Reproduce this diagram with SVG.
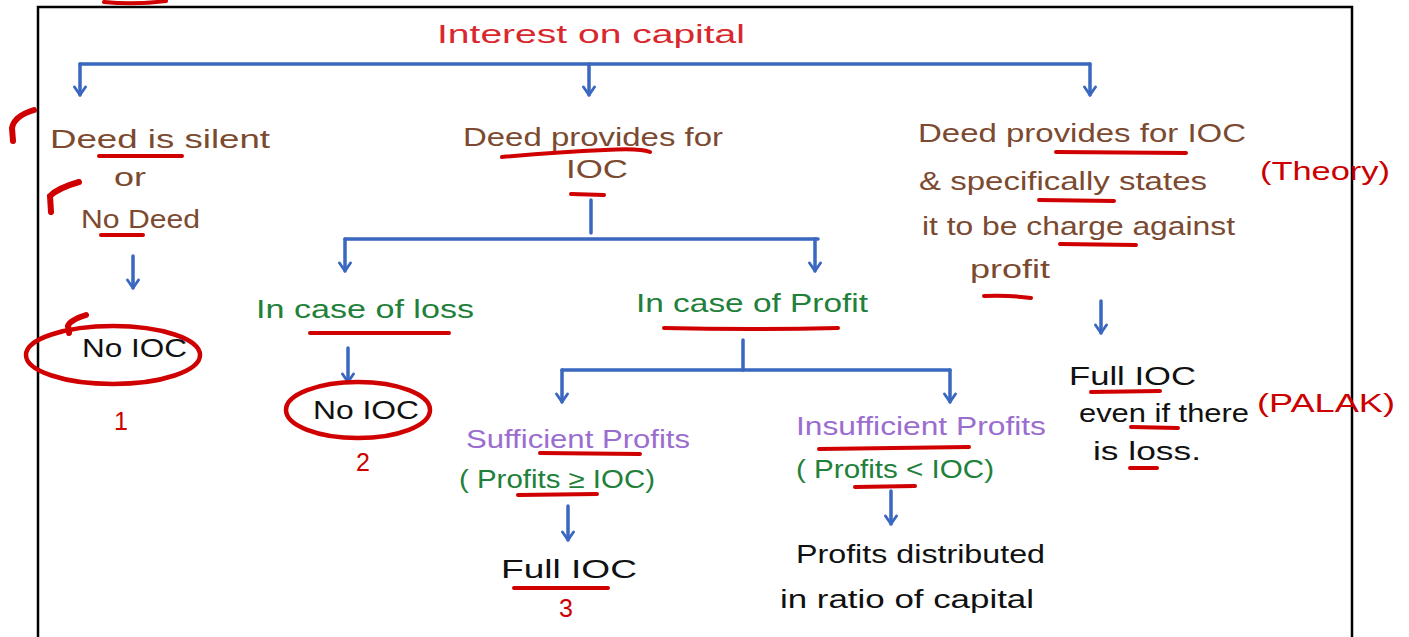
<svg xmlns="http://www.w3.org/2000/svg" width="1409" height="637" viewBox="0 0 1409 637">
<defs>
<marker id="ah" viewBox="0 0 14 14" refX="12" refY="7" markerWidth="14" markerHeight="14" markerUnits="userSpaceOnUse" orient="auto">
<path d="M4,1.5 L12,7 L4,12.5" fill="none" stroke="#3a67c0" stroke-width="2.8" stroke-linecap="round" stroke-linejoin="round"/>
</marker>
<style>
text{font-family:"Liberation Sans","DejaVu Sans",sans-serif;font-size:25px;}
.br{fill:#7b4a30}
.gr{fill:#21803a}
.pu{fill:#9b6dd0}
.bk{fill:#111}
.rd{fill:#d8282e}
.rr{fill:#cc0000}
.ul{stroke:#d00000;stroke-width:4;fill:none;stroke-linecap:round}
.tk{stroke:#d00000;stroke-width:6;fill:none;stroke-linecap:round}
.cn{stroke:#3a67c0;stroke-width:3.5;fill:none;stroke-linecap:round}
.ar{stroke:#3a67c0;stroke-width:3.5;fill:none;stroke-linecap:round;marker-end:url(#ah)}
.ring{stroke:#d00000;stroke-width:4.5;fill:none}
</style>
</defs>
<rect width="1409" height="637" fill="#fff"/>
<g id="frame">
<path d="M38,637 L38,7 L1352,7 L1352,637" fill="none" stroke="#000" stroke-width="2.5"/>
<path class="ul" d="M104,2 Q135,5 166,1"/>
</g>
<g id="connectors">
<path class="cn" d="M80,64 L1090,64"/>
<path class="ar" d="M80,64 L80,95"/>
<path class="ar" d="M589,64 L589,95"/>
<path class="ar" d="M1090,64 L1090,95"/>
<path class="ar" d="M133,256 L133,288"/>
<path class="cn" d="M591,200 L591,233"/>
<path class="cn" d="M345,239 L818,239"/>
<path class="ar" d="M345,239 L345,271"/>
<path class="ar" d="M815,239 L815,271"/>
<path class="ar" d="M348,348 L348,382"/>
<path class="cn" d="M743,340 L743,370"/>
<path class="cn" d="M562,370 L950,370"/>
<path class="ar" d="M562,370 L562,402"/>
<path class="ar" d="M950,370 L950,402"/>
<path class="ar" d="M568,506 L568,540"/>
<path class="ar" d="M891,491 L891,524"/>
<path class="ar" d="M1101,301 L1101,333"/>
</g>
<g id="title">
<text class="rd" x="437" y="43" textLength="308" lengthAdjust="spacingAndGlyphs">Interest on capital</text>
</g>
<g id="n-deed-silent">
<path class="tk" d="M34,110 Q14,116 12,128 L13,141"/>
<path class="tk" d="M79,182 Q58,188 50,196 L51,212"/>
<text class="br" x="50" y="148" textLength="220" lengthAdjust="spacingAndGlyphs">Deed is silent</text>
<path class="ul" d="M99,156 L182,156"/>
<text class="br" x="114" y="186" textLength="32" lengthAdjust="spacingAndGlyphs">or</text>
<text class="br" x="81" y="228" textLength="119" lengthAdjust="spacingAndGlyphs">No Deed</text>
<path class="ul" d="M101,235 L143,235"/>
</g>
<g id="n-noioc-1">
<path class="tk" d="M86,315 Q70,320 68,326 L69,333"/>
<ellipse class="ring" cx="113" cy="355" rx="87" ry="29"/>
<text class="bk" x="82" y="357" textLength="105" lengthAdjust="spacingAndGlyphs">No IOC</text>
<text class="rr" x="114" y="430" font-size="22">1</text>
</g>
<g id="n-deed-provides">
<text class="br" x="463" y="146" textLength="260" lengthAdjust="spacingAndGlyphs">Deed provides for</text>
<path class="ul" d="M502,157 Q560,152 605,150 Q640,148 650,152"/>
<text class="br" x="566" y="178" textLength="62" lengthAdjust="spacingAndGlyphs">IOC</text>
<path class="ul" d="M571,194 L604,195"/>
</g>
<g id="n-loss">
<text class="gr" x="256" y="318" textLength="218" lengthAdjust="spacingAndGlyphs">In case of loss</text>
<path class="ul" d="M310,333 L449,333"/>
</g>
<g id="n-noioc-2">
<ellipse class="ring" cx="358" cy="410" rx="72" ry="28"/>
<text class="bk" x="313" y="419" textLength="106" lengthAdjust="spacingAndGlyphs">No IOC</text>
<text class="rr" x="356" y="471" font-size="22">2</text>
</g>
<g id="n-profit">
<text class="gr" x="636" y="312" textLength="232" lengthAdjust="spacingAndGlyphs">In case of Profit</text>
<path class="ul" d="M664,328 Q750,330 838,328"/>
</g>
<g id="n-sufficient">
<text class="pu" x="466" y="448" textLength="224" lengthAdjust="spacingAndGlyphs">Sufficient Profits</text>
<path class="ul" d="M540,453 L640,454"/>
<text class="gr" x="459" y="488" textLength="196" lengthAdjust="spacingAndGlyphs">( Profits ≥ IOC)</text>
<path class="ul" d="M518,495 L597,494"/>
</g>
<g id="n-full-3">
<text class="bk" x="501" y="578" textLength="136" lengthAdjust="spacingAndGlyphs">Full IOC</text>
<path class="ul" d="M514,588 L608,588"/>
<text class="rr" x="559" y="617" font-size="22">3</text>
</g>
<g id="n-insufficient">
<text class="pu" x="796" y="435" textLength="250" lengthAdjust="spacingAndGlyphs">Insufficient Profits</text>
<path class="ul" d="M819,449 L969,447"/>
<text class="gr" x="796" y="478" textLength="198" lengthAdjust="spacingAndGlyphs">( Profits &lt; IOC)</text>
<path class="ul" d="M855,487 L915,486"/>
</g>
<g id="n-distributed">
<text class="bk" x="796" y="563" textLength="249" lengthAdjust="spacingAndGlyphs">Profits distributed</text>
<text class="bk" x="780" y="608" textLength="254" lengthAdjust="spacingAndGlyphs">in ratio of capital</text>
</g>
<g id="n-deed-charge">
<text class="br" x="918" y="142" textLength="328" lengthAdjust="spacingAndGlyphs">Deed provides for IOC</text>
<path class="ul" d="M1056,152 L1186,153"/>
<text class="br" x="919" y="190" textLength="288" lengthAdjust="spacingAndGlyphs">&amp; specifically states</text>
<path class="ul" d="M1039,200 L1114,201"/>
<text class="br" x="922" y="235" textLength="313" lengthAdjust="spacingAndGlyphs">it to be charge against</text>
<path class="ul" d="M1060,244 L1136,245"/>
<text class="br" x="970" y="278" textLength="80" lengthAdjust="spacingAndGlyphs">profit</text>
<path class="ul" d="M984,296 Q1010,295 1031,298"/>
<text class="rr" x="1260" y="180" font-size="30" textLength="130" lengthAdjust="spacingAndGlyphs">(Theory)</text>
</g>
<g id="n-full-loss">
<text class="bk" x="1069" y="385" textLength="127" lengthAdjust="spacingAndGlyphs">Full IOC</text>
<path class="ul" d="M1091,392 L1160,391"/>
<text class="bk" x="1079" y="422" textLength="170" lengthAdjust="spacingAndGlyphs">even if there</text>
<path class="ul" d="M1131,427 L1178,428"/>
<text class="bk" x="1093" y="460" textLength="108" lengthAdjust="spacingAndGlyphs">is loss.</text>
<path class="ul" d="M1130,468 L1157,468"/>
<text class="rr" x="1257" y="412" font-size="30" textLength="138" lengthAdjust="spacingAndGlyphs">(PALAK)</text>
</g>
</svg>
